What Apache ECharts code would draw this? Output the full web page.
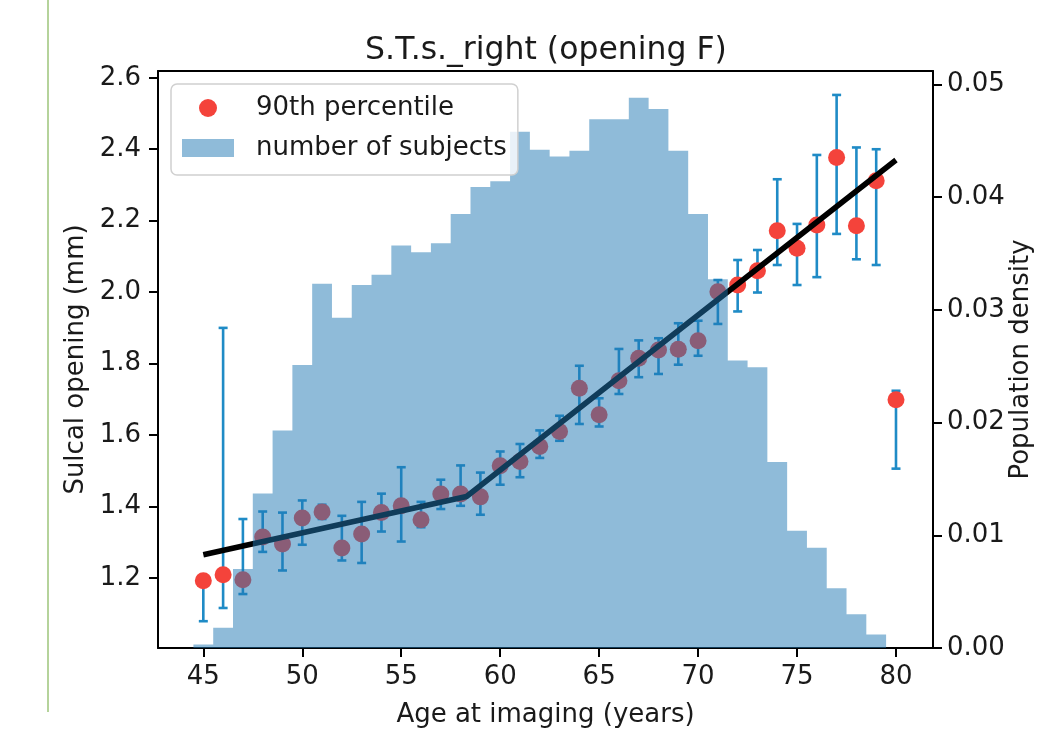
<!DOCTYPE html>
<html>
<head>
<meta charset="utf-8">
<script src="https://cdn.jsdelivr.net/npm/echarts@6/dist/echarts.min.js"></script>
<style>
html,body{margin:0;padding:0;background:#fff;}
#chart{width:1040px;height:740px;}
</style>
</head>
<body>
<div id="chart"></div>
<script>
// 90th percentile per age, with error bar ends
const ages = [45,46,47,48,49,50,51,52,53,54,55,56,57,58,59,60,61,62,63,64,65,66,67,68,69,70,71,72,73,74,75,76,77,78,79,80]
const p90 = [1.192,1.209,1.195,1.315,1.295,1.368,1.385,1.284,1.323,1.383,1.402,1.363,1.435,1.435,1.427,1.514,1.526,1.568,1.610,1.731,1.657,1.752,1.815,1.838,1.840,1.864,2.001,2.020,2.060,2.172,2.123,2.188,2.377,2.186,2.312,1.699]
const errLow = [1.079,1.116,1.155,1.273,1.221,1.293,1.365,1.249,1.242,1.330,1.302,1.342,1.393,1.402,1.377,1.461,1.482,1.536,1.584,1.631,1.624,1.715,1.762,1.771,1.797,1.822,1.911,1.946,1.999,2.076,2.020,2.042,2.163,2.092,2.076,1.506]
const errHigh = [1.200,1.900,1.365,1.386,1.383,1.417,1.405,1.374,1.413,1.436,1.510,1.413,1.475,1.515,1.495,1.554,1.575,1.613,1.654,1.794,1.703,1.841,1.865,1.871,1.913,1.920,2.034,2.090,2.118,2.316,2.191,2.384,2.552,2.405,2.400,1.724]

// histogram of subjects (population density), 1-year bins
const binCenters = [45,46,47,48,49,50,51,52,53,54,55,56,57,58,59,60,61,62,63,64,65,66,67,68,69,70,71,72,73,74,75,76,77,78,79]
const density = [0.0003,0.0018,0.0070,0.0137,0.0193,0.0251,0.0323,0.0293,0.0322,0.0331,0.0357,0.0351,0.0359,0.0385,0.0409,0.0414,0.0458,0.0442,0.0436,0.0441,0.0469,0.0469,0.0488,0.0478,0.0441,0.0385,0.0327,0.0255,0.0249,0.0165,0.0104,0.0089,0.0053,0.0030,0.0012]
const binWidth = 1

// piecewise linear fit
const fitAges = [45, 58.3, 80]
const fitValues = [1.265, 1.428, 2.370]

const xTicks = [45,50,55,60,65,70,75,80]
const yTicks = [1.2,1.4,1.6,1.8,2.0,2.2,2.4,2.6]
const densityTicks = [0,0.01,0.02,0.03,0.04,0.05]

const FONT = 'DejaVu Sans'
const TXT = '#1a1a1a'
const FS = 26
const HIST = 'rgba(31,119,180,0.5)'
const ERR = '#1f8bc6'
const RED = '#f4433b'

// step outline: bin edges at center +- width/2
const histData = [[binCenters[0]-binWidth/2, density[0]]]
  .concat(binCenters.map((c,i)=>[c, density[i]]))
  .concat([[binCenters[binCenters.length-1]+binWidth/2, density[density.length-1]]])

const axisLineStyle = {color:'#000', width:2}

let myChart = echarts.init(document.getElementById('chart'))
let option = {
  animation:false,
  backgroundColor:'#fff',
  textStyle:{fontFamily:FONT},
  title:{
    text:'S.T.s._right (opening F)',
    left:541, top:30, textAlign:'center',
    textStyle:{fontFamily:FONT, fontSize:31.5, fontWeight:'normal', color:TXT}
  },
  legend:{
    orient:'vertical',
    left:171, top:84,
    padding:[11,11,14,11],
    itemGap:14,
    itemWidth:52, itemHeight:18,
    selectedMode:false,
    backgroundColor:'rgba(255,255,255,0.8)',
    borderColor:'#d0d0d0', borderWidth:1.5, borderRadius:6,
    z:10,
    textStyle:{fontFamily:FONT, fontSize:FS, color:TXT, padding:[0,0,0,17]},
    data:[
      {name:'90th percentile', icon:'circle', itemStyle:{color:RED}},
      {name:'number of subjects', icon:'rect', itemStyle:{color:HIST, borderWidth:0}}
    ]
  },
  grid:{left:158, right:107, top:71, bottom:92, containLabel:false, outerBoundsMode:'none'},
  xAxis:[{
    type:'value', position:'bottom', min:42.71, max:81.87,
    axisLine:{onZero:false, lineStyle:axisLineStyle},
    axisTick:{length:9, lineStyle:{color:'#000', width:2}, customValues:xTicks},
    axisLabel:{customValues:xTicks, fontFamily:FONT, fontSize:FS, color:TXT, margin:16},
    splitLine:{show:false},
    name:'Age at imaging (years)', nameLocation:'middle', nameGap:54, nameMoveOverlap:false,
    nameTextStyle:{fontFamily:FONT, fontSize:FS, color:TXT}
  },{
    type:'value', position:'top', min:42.71, max:81.87,
    axisLine:{onZero:false, lineStyle:axisLineStyle},
    axisTick:{show:false}, axisLabel:{show:false}, splitLine:{show:false}
  }],
  yAxis:[{
    type:'value', position:'left', min:1.004, max:2.619,
    axisLine:{show:true, onZero:false, lineStyle:axisLineStyle},
    axisTick:{show:true, length:9, lineStyle:{color:'#000', width:2}, customValues:yTicks},
    axisLabel:{customValues:yTicks, formatter:v=>v.toFixed(1), fontFamily:FONT, fontSize:FS, color:TXT, margin:17},
    splitLine:{show:false},
    name:'Sulcal opening (mm)', nameLocation:'middle', nameGap:69, nameRotate:90, nameMoveOverlap:false,
    nameTextStyle:{fontFamily:FONT, fontSize:FS, color:TXT}
  },{
    type:'value', position:'right', min:0, max:0.05118,
    axisLine:{show:true, onZero:false, lineStyle:axisLineStyle},
    axisTick:{show:true, length:9, lineStyle:{color:'#000', width:2}, customValues:densityTicks},
    axisLabel:{customValues:densityTicks, formatter:v=>v.toFixed(2), fontFamily:FONT, fontSize:FS, color:TXT, margin:14},
    splitLine:{show:false},
    name:'Population density', nameLocation:'middle', nameGap:75, nameRotate:90, nameMoveOverlap:false,
    nameTextStyle:{fontFamily:FONT, fontSize:FS, color:TXT}
  }],
  graphic:[{
    type:'line', shape:{x1:48, y1:0, x2:48, y2:712},
    style:{stroke:'#9cc47a', lineWidth:1.5}, z:100
  }],
  series:[{
    name:'error bars',
    type:'custom',
    z:2,
    data:ages.map((a,i)=>[a, errLow[i], errHigh[i]]),
    encode:{x:0, y:[1,2]},
    renderItem:function(params, api){
      let x = api.value(0)
      let lo = api.coord([x, api.value(1)])
      let hi = api.coord([x, api.value(2)])
      let cap = 4.5
      let style = {stroke:ERR, lineWidth:2.6}
      return {type:'group', children:[
        {type:'line', shape:{x1:lo[0], y1:lo[1], x2:hi[0], y2:hi[1]}, style:style},
        {type:'line', shape:{x1:lo[0]-cap, y1:lo[1], x2:lo[0]+cap, y2:lo[1]}, style:style},
        {type:'line', shape:{x1:hi[0]-cap, y1:hi[1], x2:hi[0]+cap, y2:hi[1]}, style:style}
      ]}
    }
  },{
    name:'90th percentile',
    type:'scatter',
    z:3,
    symbolSize:17,
    itemStyle:{color:RED, opacity:1},
    data:ages.map((a,i)=>[a, p90[i]])
  },{
    name:'fit',
    type:'line',
    z:4,
    showSymbol:false,
    lineStyle:{color:'#000', width:5.5},
    data:fitAges.map((a,i)=>[a, fitValues[i]])
  },{
    name:'number of subjects',
    type:'line',
    xAxisIndex:0, yAxisIndex:1,
    z:5,
    step:'middle',
    showSymbol:false,
    color:HIST,
    lineStyle:{width:0, opacity:0},
    areaStyle:{color:HIST, opacity:1},
    data:histData
  }]
}
myChart.setOption(option)
window.addEventListener('resize',()=>{myChart.resize()})
</script>
</body>
</html>
